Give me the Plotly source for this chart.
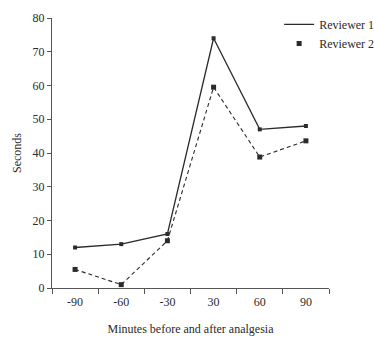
import plotly.graph_objects as go

minutes = ["-90", "-60", "-30", "30", "60", "90"]
reviewer1 = [12, 13, 16, 74, 47, 48]
reviewer2 = [5.5, 1, 14, 59.5, 38.8, 43.6]
y_ticks = [0, 10, 20, 30, 40, 50, 60, 70, 80]

ink = "#2b2b2b"
text_color = "#2a2a2a"
font = dict(family="Liberation Serif, Times New Roman, serif", size=12, color=text_color)

fig = go.Figure()

fig.add_trace(go.Scatter(
    x=minutes, y=reviewer1, mode="lines+markers", name="Reviewer 1",
    line=dict(color=ink, width=1.3),
    marker=dict(symbol="square", size=4, color=ink),
    showlegend=False,
))
fig.add_trace(go.Scatter(
    x=minutes, y=reviewer2, mode="lines+markers", name="Reviewer 2",
    line=dict(color=ink, width=1.1, dash="4px,3px"),
    marker=dict(symbol="square", size=5, color=ink),
    showlegend=False,
))

# legend entries: solid line for reviewer 1, marker only for reviewer 2
fig.add_trace(go.Scatter(
    x=[None], y=[None], mode="lines", name="Reviewer 1",
    line=dict(color=ink, width=1.3),
))
fig.add_trace(go.Scatter(
    x=[None], y=[None], mode="markers", name="Reviewer 2",
    marker=dict(symbol="square", size=5, color=ink),
))

fig.update_layout(
    width=374, height=342,
    margin=dict(l=52, r=45, t=18, b=54, autoexpand=False),
    paper_bgcolor="white", plot_bgcolor="white",
    font=font,
    legend=dict(
        x=0.82, y=1.03, xanchor="left", yanchor="top",
        bgcolor="rgba(0,0,0,0)", itemwidth=30,
        font=dict(family=font["family"], size=12, color=text_color),
        tracegroupgap=0,
    ),
)

fig.update_xaxes(
    type="category", range=[-0.5, 5.5],
    showline=True, linecolor="#555555", linewidth=1,
    ticks="outside", tickson="boundaries", ticklen=5, tickcolor="#555555",
    ticklabelstandoff=3,
    showgrid=False, zeroline=False,
    title=dict(text="Minutes before and after analgesia", standoff=16,
               font=dict(family=font["family"], size=12, color=text_color)),
)
fig.update_yaxes(
    range=[0, 80], tickvals=y_ticks,
    showline=True, linecolor="#555555", linewidth=1,
    ticks="outside", ticklen=4, tickcolor="#555555",
    showgrid=False, zeroline=False,
    title=dict(text="Seconds", standoff=8,
               font=dict(family=font["family"], size=12, color=text_color)),
)

fig.write_html("out.html")
